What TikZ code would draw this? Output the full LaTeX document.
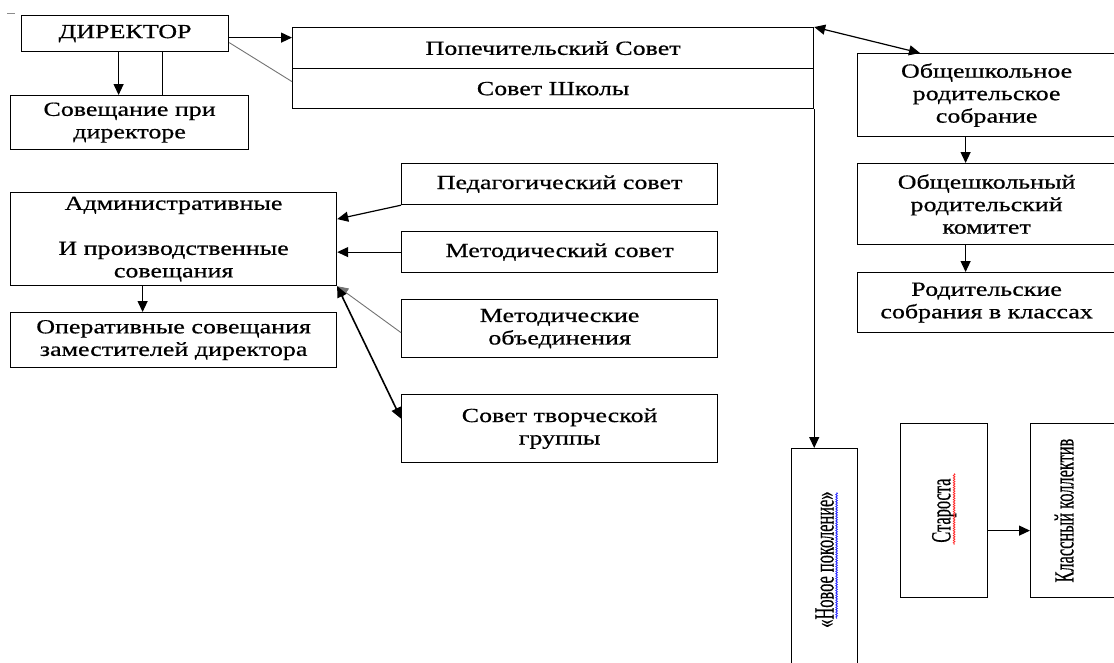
\documentclass[tikz,border=0pt]{standalone}
\usepackage{fontspec}
\setmainfont{Liberation Serif}[FakeStretch=1.3,FakeBold=0.6]
\newfontfamily\rotfont{Liberation Serif}[FakeBold=0.6]
\usepackage{graphicx}
\usetikzlibrary{arrows.meta,decorations.pathmorphing}
\newcommand\rottext[1]{\rotatebox{90}{\scalebox{0.82}[1.38]{\rotfont\fontsize{20}{22}\selectfont #1}}}
\begin{document}
\begin{tikzpicture}[x=1pt,y=-1pt,
  box/.style={draw,line width=1.2pt,anchor=north west,align=center,inner sep=0pt,font=\fontsize{20}{22.5}\selectfont},
  conn/.style={line width=1.2pt},
  tip/.style={-{Triangle[length=11pt,width=10pt]}},
  arr/.style={conn,tip},
  darr/.style={conn,{Triangle[length=11pt,width=10pt]}-{Triangle[length=11pt,width=10pt]}},
  faint/.style={line width=0.9pt,black!55},
  wavy/.style={line width=0.8pt,decorate,decoration={snake,amplitude=0.8pt,segment length=2.4pt}}
]
\useasboundingbox (0,0) rectangle (1114,662);
\clip (0,0) rectangle (1114,662);
\draw[black!45,line width=0.6pt] (7,13) -- (15,13);
% left top
\node[box,minimum width=207pt,minimum height=36pt] (dir) at (21,15) {ДИРЕКТОР};
\node[box,minimum width=238pt,minimum height=54pt] (sov) at (10,95) {Совещание при\\директоре};
\node[box,minimum width=521pt,minimum height=41pt] (pop) at (292,27) {Попечительский Совет};
\node[box,minimum width=521pt,minimum height=40pt] (sovsh) at (292,68) {Совет Школы};
% right column
\node[box,minimum width=258pt,minimum height=83pt] (obsh) at (857,53) {Общешкольное\\родительское\\собрание};
\node[box,minimum width=258pt,minimum height=81pt] (kom) at (857,163) {Общешкольный\\родительский\\комитет};
\node[box,minimum width=258pt,minimum height=60pt] (rod) at (857,272) {Родительские\\собрания в классах};
% left middle
\node[box,minimum width=326pt,minimum height=93pt] (adm) at (10,192) {\rule{0pt}{8pt}Административные\\\mbox{}\\И производственные\\совещания};
\node[box,minimum width=326pt,minimum height=55pt] (oper) at (10,312) {Оперативные совещания\\заместителей директора};
% middle column
\node[box,minimum width=316pt,minimum height=41pt] (ped) at (401,163) {Педагогический совет};
\node[box,minimum width=316pt,minimum height=41pt] (metsov) at (401,231) {Методический совет};
\node[box,minimum width=316pt,minimum height=58pt] (metob) at (401,299) {Методические\\объединения};
\node[box,minimum width=316pt,minimum height=68pt] (tvor) at (401,394) {Совет творческой\\группы};
% bottom right
\node[box,minimum width=66pt,minimum height=222pt] (novoe) at (791,448) {\rottext{«Новое поколение»}};
\node[box,minimum width=87pt,minimum height=174pt] (star) at (900,423) {\rottext{Староста}};
\node[box,minimum width=87pt,minimum height=174pt] (klass) at (1030,423) {\rottext{Классный коллектив}\hspace*{20pt}};
% connectors
\draw[arr] ([xshift=-6.5pt]dir.south) -- ([xshift=-6.5pt]dir.south |- sov.north);
\draw[conn] ([xshift=37.5pt]dir.south) -- ([xshift=37.5pt]dir.south |- sov.north);
\draw[arr] ([yshift=-4pt]dir.east) -- ([yshift=-4pt]dir.east -| pop.west);
\draw[faint] ([yshift=-9pt]dir.east) -- ([yshift=7pt]sovsh.west);
\draw[darr] (pop.north east) -- ([xshift=63pt]obsh.north west);
\draw[arr] (sovsh.south east) -- (sovsh.south east |- novoe.north);
\draw[arr] ([xshift=-21pt]obsh.south) -- ([xshift=-21pt]obsh.south |- kom.north);
\draw[arr] ([xshift=-21pt]kom.south) -- ([xshift=-21pt]kom.south |- rod.north);
\draw[arr] ([xshift=-31pt]adm.south) -- ([xshift=-31pt]adm.south |- oper.north);
\draw[arr] (ped.south west) -- ([yshift=20pt]adm.east);
\draw[arr] (metsov.west) -- (metsov.west -| adm.east);
\draw[faint,tip] ([yshift=-4pt]metob.west) -- (adm.south east);
\draw[darr,line width=1.6pt] (adm.south east) -- ([yshift=10pt]tvor.west);
\draw[arr] ([yshift=-20pt]star.east) -- ([yshift=-20pt]star.east -| klass.west);
% spell-check underlines
\draw[wavy,blue!85] ([shift={(12pt,67pt)}]novoe.center) -- ([shift={(12pt,-59pt)}]novoe.center);
\draw[wavy,red!85] ([shift={(10pt,37pt)}]star.center) -- ([shift={(10pt,-34pt)}]star.center);
\end{tikzpicture}
\end{document}
